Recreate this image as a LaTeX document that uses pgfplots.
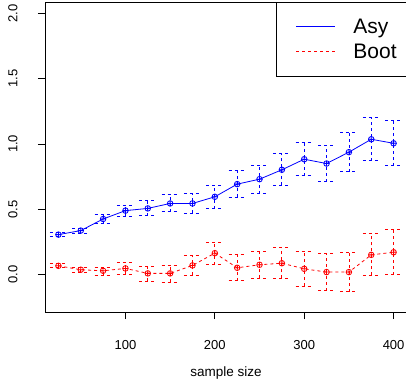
\documentclass[border=0pt]{standalone}
\usepackage{pgfplots}
\pgfplotsset{compat=1.18}
\usepackage{pgfplotstable}
\usepackage{fontspec}
\setmainfont{Liberation Sans}
\pgfplotstableread{
n m hi lo
25 0.305 0.320 0.290
50 0.336 0.356 0.313
75 0.425 0.458 0.389
100 0.489 0.532 0.445
125 0.506 0.565 0.450
150 0.544 0.611 0.481
175 0.544 0.621 0.471
200 0.595 0.682 0.504
225 0.692 0.794 0.593
250 0.730 0.837 0.618
275 0.802 0.924 0.682
300 0.883 1.015 0.756
325 0.850 0.992 0.710
350 0.937 1.092 0.786
375 1.036 1.201 0.873
400 1.005 1.178 0.832
}\asy
\pgfplotstableread{
n m hi lo
25 0.066 0.082 0.051
50 0.036 0.056 0.013
75 0.028 0.056 -0.005
100 0.046 0.089 0.002
125 0.008 0.064 -0.051
150 0.008 0.071 -0.059
175 0.069 0.143 -0.008
200 0.163 0.247 0.076
225 0.051 0.150 -0.048
250 0.074 0.178 -0.031
275 0.086 0.209 -0.031
300 0.043 0.176 -0.089
325 0.018 0.158 -0.125
350 0.018 0.170 -0.132
375 0.150 0.315 -0.008
400 0.170 0.346 -0.002
}\boot
\pgfplotstableread{
x y
25 0.051
25 0.082
25 nan
15.5 0.082
34.5 0.082
25 nan
15.5 0.051
34.5 0.051
25 nan
50 0.013
50 0.056
50 nan
40.5 0.056
59.5 0.056
50 nan
40.5 0.013
59.5 0.013
50 nan
75 -0.005
75 0.056
75 nan
65.5 0.056
84.5 0.056
75 nan
65.5 -0.005
84.5 -0.005
75 nan
100 0.002
100 0.089
100 nan
90.5 0.089
109.5 0.089
100 nan
90.5 0.002
109.5 0.002
100 nan
125 -0.051
125 0.064
125 nan
115.5 0.064
134.5 0.064
125 nan
115.5 -0.051
134.5 -0.051
125 nan
150 -0.059
150 0.071
150 nan
140.5 0.071
159.5 0.071
150 nan
140.5 -0.059
159.5 -0.059
150 nan
175 -0.008
175 0.143
175 nan
165.5 0.143
184.5 0.143
175 nan
165.5 -0.008
184.5 -0.008
175 nan
200 0.076
200 0.247
200 nan
190.5 0.247
209.5 0.247
200 nan
190.5 0.076
209.5 0.076
200 nan
225 -0.048
225 0.150
225 nan
215.5 0.150
234.5 0.150
225 nan
215.5 -0.048
234.5 -0.048
225 nan
250 -0.031
250 0.178
250 nan
240.5 0.178
259.5 0.178
250 nan
240.5 -0.031
259.5 -0.031
250 nan
275 -0.031
275 0.209
275 nan
265.5 0.209
284.5 0.209
275 nan
265.5 -0.031
284.5 -0.031
275 nan
300 -0.089
300 0.176
300 nan
290.5 0.176
309.5 0.176
300 nan
290.5 -0.089
309.5 -0.089
300 nan
325 -0.125
325 0.158
325 nan
315.5 0.158
334.5 0.158
325 nan
315.5 -0.125
334.5 -0.125
325 nan
350 -0.132
350 0.170
350 nan
340.5 0.170
359.5 0.170
350 nan
340.5 -0.132
359.5 -0.132
350 nan
375 -0.008
375 0.315
375 nan
365.5 0.315
384.5 0.315
375 nan
365.5 -0.008
384.5 -0.008
375 nan
400 -0.002
400 0.346
400 nan
390.5 0.346
409.5 0.346
400 nan
390.5 -0.002
409.5 -0.002
}\bootbars
\begin{document}
\begin{tikzpicture}
\begin{axis}[
  scale only axis, width=362pt, height=310pt,
  xmin=10, xmax=415, ymin=-0.288, ymax=2.088,
  xtick={100,200,300,400}, ytick={0,0.5,1,1.5,2},
  xtick pos=left, ytick pos=left, tick align=outside,
  major tick length=7pt,
  axis line style={black, line width=0.8pt},
  tick style={black, line width=0.8pt},
  tick label style={font=\fontsize{13}{13}\selectfont},
  x tick label style={/pgf/number format/assume math mode=true, anchor=center, yshift=-26pt},
  y tick label style={/pgf/number format/.cd, fixed, fixed zerofill, precision=1, assume math mode=true, /tikz/.cd, xshift=-25pt, rotate=90, anchor=center},
  xlabel={sample size},
  xlabel style={font=\fontsize{13.5}{13.5}\selectfont, at={(axis description cs:0.5,0)}, anchor=center, yshift=-61pt},
  legend style={at={(1,1)}, anchor=north east, draw=black, line width=0.8pt,
    inner xsep=10pt, inner ysep=12pt, row sep=0pt, column sep=0pt,
    font=\fontsize{21}{21}\selectfont,
    nodes={inner sep=0pt, minimum height=25pt}},
  legend cell align=left,
  legend image code/.code={\path[draw=none,fill=none] (0pt,-0.1em) rectangle (67pt,0.1em); \draw[#1] (10pt,0pt) -- (49pt,0pt);},
  unbounded coords=jump,
]
% Asy intervals (quiver)
\addplot[blue, line width=0.8pt, dash pattern=on 3pt off 3pt, mark=none, forget plot, quiver={u=0, v=\thisrow{hi}-\thisrow{lo}}]
  table[x=n, y=lo] {\asy};
\addplot[blue, line width=0.8pt, dash pattern=on 3pt off 3pt, mark=none, forget plot, quiver={u=19, v=0}]
  table[x expr=\thisrow{n}-9.5, y=hi] {\asy};
\addplot[blue, line width=0.8pt, dash pattern=on 3pt off 3pt, mark=none, forget plot, quiver={u=19, v=0}]
  table[x expr=\thisrow{n}-9.5, y=lo] {\asy};
% Boot intervals
\addplot[red, line width=0.8pt, dash pattern=on 3pt off 3pt, mark=none, forget plot]
  table[x=x, y=y] {\bootbars};
% point estimates
\addplot[blue, line width=0.8pt, mark=oplus, mark size=2.8pt, mark options={solid}, forget plot]
  table[x=n, y=m] {\asy};
\addplot[red, line width=0.8pt, dash pattern=on 3pt off 3pt, mark=oplus, mark size=2.8pt, mark options={solid}, forget plot]
  table[x=n, y=m] {\boot};
\addlegendimage{blue, line width=0.8pt}
\addlegendentry{Asy}
\addlegendimage{red, line width=0.8pt, legend image code/.code={\path[draw=none,fill=none] (0pt,-0.1em) rectangle (67pt,0.1em); \draw[red, line width=0.8pt] (10pt,0pt)--(13pt,0pt) (16pt,0pt)--(19pt,0pt) (22pt,0pt)--(25pt,0pt) (28pt,0pt)--(31pt,0pt) (34pt,0pt)--(37pt,0pt) (40pt,0pt)--(43pt,0pt) (46pt,0pt)--(49pt,0pt);}}
\addlegendentry{Boot}
\end{axis}
\pgfresetboundingbox
\path[use as bounding box] (-45pt,-77pt) rectangle (361pt,312pt);
\end{tikzpicture}
\end{document}
